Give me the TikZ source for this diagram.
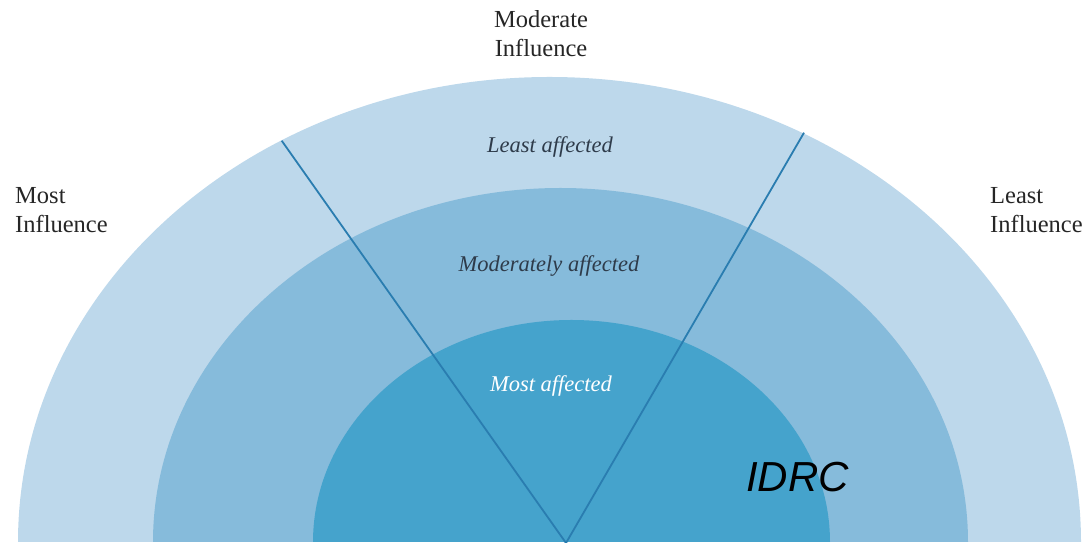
\documentclass[tikz,border=0pt]{standalone}
\usepackage{fontspec}
\setmainfont{Liberation Serif}
\newfontfamily\arialish{Liberation Sans}
\definecolor{ringOuter}{HTML}{BDD8EB}
\definecolor{ringMid}{HTML}{86BBDB}
\definecolor{ringInner}{HTML}{45A3CC}
\definecolor{vline}{HTML}{2A7DB0}
\definecolor{ringtext}{HTML}{2E3B4A}
\begin{document}
\begin{tikzpicture}[x=1pt,y=1pt,
  influence/.style={inner sep=0pt, font=\fontsize{24.5}{29.5}\selectfont, text=black!85},
  affect/.style={inner sep=0pt, anchor=base, font=\fontsize{22.5}{26}\selectfont\itshape},
]
\useasboundingbox (0,0) rectangle (1088,543);
% three nested half-ellipses
\fill[ringOuter] (18,1) arc[start angle=180, end angle=0, x radius=531.5, y radius=465] -- cycle;
\fill[ringMid] (153,1) arc[start angle=180, end angle=0, x radius=407.5, y radius=354] -- cycle;
\fill[ringInner] (313,1) arc[start angle=180, end angle=0, x radius=258.5, y radius=222] -- cycle;
% the V that splits the fan
\coordinate (apex) at (566,0);
\coordinate (ltop) at (281.7,402.3);
\coordinate (rtop) at (804,410.3);
\draw[vline, line width=1.8pt] (ltop) -- (apex) -- (rtop);
% ring labels
\node[affect, text=ringtext] (least) at (550,390) {Least affected};
\node[affect, text=ringtext] (moder) at (549,271) {Moderately affected};
\node[affect, text=white] (most) at (551,151) {Most affected};
% influence labels (anchored on the baseline of the last line)
\node[influence, anchor=base west, align=left] (minf) at (15,310) {Most\\Influence};
\node[influence, anchor=base west, align=left] (linf) at (990,310) {Least\\Influence};
\node[influence, anchor=base, align=center] (modinf) at (541,486) {Moderate\\Influence};
% organisation tag
\node[inner sep=0pt, anchor=base west, font=\arialish\itshape\fontsize{42}{42}\selectfont] (idrc) at (746,51) {IDRC};
\end{tikzpicture}
\end{document}
